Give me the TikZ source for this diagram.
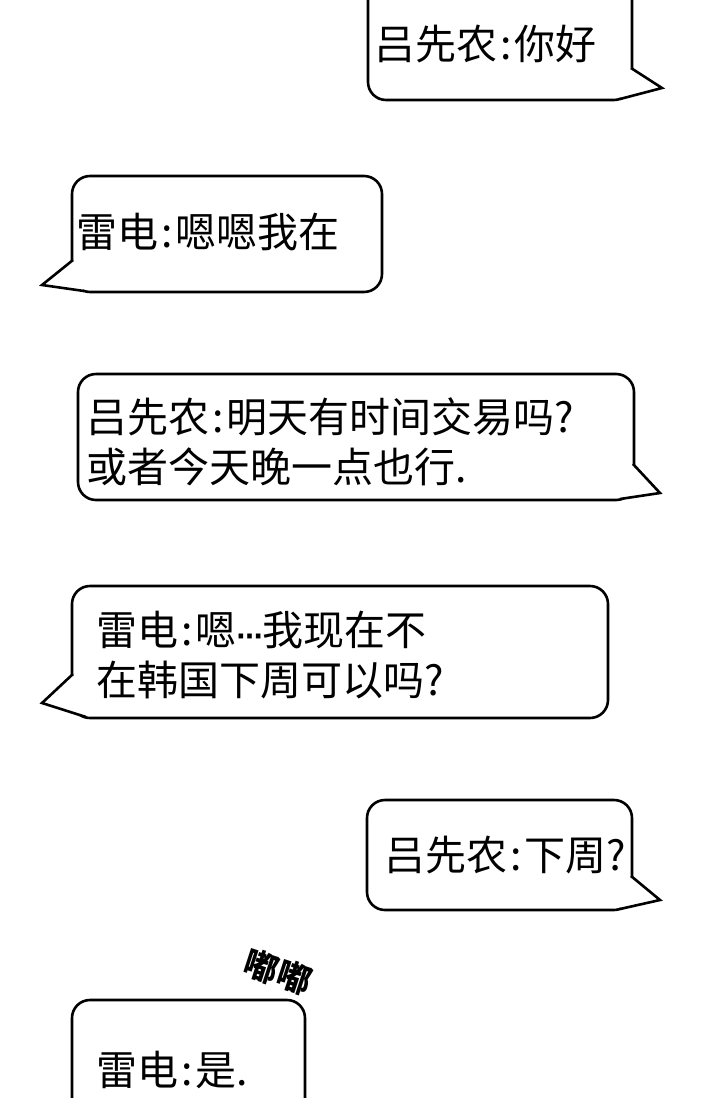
\documentclass[tikz,border=0pt]{standalone}
\usepackage{fontspec}
\setmainfont{Noto Sans CJK SC}
\newcommand{\cln}{\hspace{3pt}:\hspace{3pt}}
\begin{document}
\begin{tikzpicture}[x=1pt,y=-1pt,
  bubble/.style={draw=black,line width=2.6pt,fill=white,rounded corners=18pt,inner sep=0pt},
  txt/.style={font=\fontsize{41}{50}\selectfont,align=left,anchor=west,inner sep=0pt},
  tl/.style={line width=2.6pt,line join=miter}]
\useasboundingbox[fill=white] (0,0) rectangle (720,1098);
\newcommand{\bub}[5]{%
  \node[bubble,minimum width=#4-#2,minimum height=#5-#3] (#1) at ({(#2+#4)/2},{(#3+#5)/2}) {};}
\newcommand{\tail}[3]{%
  \fill[white] #1 -- #2 -- #3 -- cycle;
  \draw[tl] #1 -- #2 -- #3;}
\bub{b1}{368}{-20}{632}{100}
\coordinate (t1) at (662,88);
\tail{(631,68)}{(t1)}{(620,99)}
\node[txt] (s1) at (374,44) {吕先农\cln 你好};

\bub{b2}{72}{176}{382}{292}
\coordinate (t2) at (42,285);
\tail{(73,260)}{(t2)}{(84,291)}
\node[txt] (s2) at (76,232) {雷电\cln 嗯嗯我在};

\bub{b3}{78}{374}{634}{500}
\coordinate (t3) at (660,493);
\tail{(633,464)}{(t3)}{(620,499)}
\node[txt] (s3) at (86,442) {吕先农\cln 明天有时间交易吗?\\或者今天晚一点也行.};

\bub{b4}{72}{586}{608}{718}
\coordinate (t4) at (42,703);
\tail{(73,674)}{(t4)}{(86,717)}
\node[txt] (s4) at (96,655) {雷电\cln 嗯{\fontspec{DejaVu Sans}\fontsize{26}{26}\selectfont\bfseries ⋯}我现在不\\在韩国下周可以吗?};

\bub{b5}{367}{800}{632}{910}
\coordinate (t5) at (660,900);
\tail{(631,876)}{(t5)}{(620,909)}
\node[txt] (s5) at (384,855) {吕先农\cln 下周?};

\draw[bubble] (305,1120) -- (305,1000) -- (72,1000) -- (72,1120);
\node[txt] (s6) at (96,1070) {雷电\cln 是.};
\node[font=\bfseries\fontsize{34}{34}\selectfont,rotate=-18] (sfx) at (278,972) {嘟嘟};
\end{tikzpicture}
\end{document}
